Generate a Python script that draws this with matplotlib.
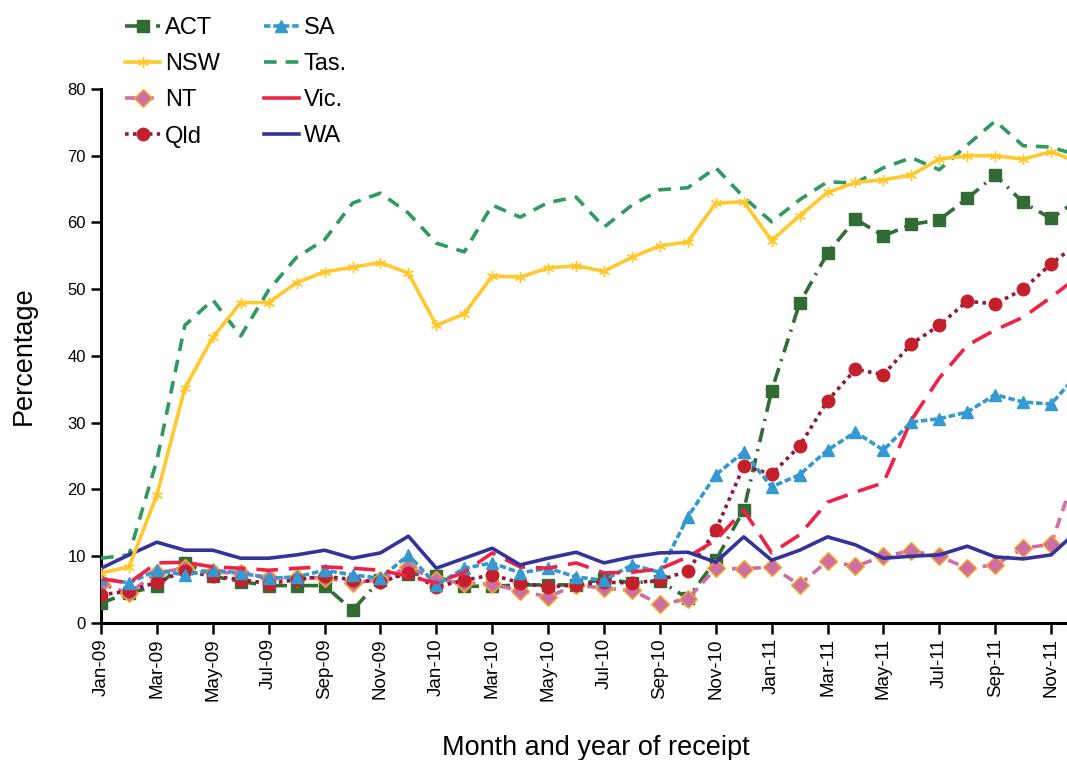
import numpy as np
import matplotlib
matplotlib.use("Agg")
from matplotlib import pyplot as plt

plt.rcParams['font.family'] = ['Liberation Sans', 'DejaVu Sans']

# monthly values, Jan-09 .. Dec-11
months = ['Jan-09', 'Feb-09', 'Mar-09', 'Apr-09', 'May-09', 'Jun-09', 'Jul-09', 'Aug-09',
          'Sep-09', 'Oct-09', 'Nov-09', 'Dec-09', 'Jan-10', 'Feb-10', 'Mar-10', 'Apr-10',
          'May-10', 'Jun-10', 'Jul-10', 'Aug-10', 'Sep-10', 'Oct-10', 'Nov-10', 'Dec-10',
          'Jan-11', 'Feb-11', 'Mar-11', 'Apr-11', 'May-11', 'Jun-11', 'Jul-11', 'Aug-11',
          'Sep-11', 'Oct-11', 'Nov-11', 'Dec-11']

act = [3.0, 4.5, 5.5, 9.0, 7.0, 6.2, 5.6, 5.6, 5.6, 1.9, 6.5, 7.4, 7.0, 5.5, 5.5, 5.7, 5.7, 5.7,
       6.6, 6.0, 6.3, 3.7, 9.4, 16.9, 34.8, 47.9, 55.4, 60.5, 58.0, 59.7, 60.4, 63.6, 67.1, 63.0,
       60.6, 63.5]
nsw = [7.5, 8.4, 19.2, 35.2, 42.8, 48.0, 48.0, 51.0, 52.6, 53.3, 54.0, 52.4, 44.6, 46.3, 52.0,
       51.8, 53.2, 53.5, 52.7, 54.8, 56.5, 57.1, 62.9, 63.1, 57.3, 61.0, 64.5, 66.0, 66.4, 67.1,
       69.5, 70.0, 70.0, 69.5, 70.6, 69.0]
nt = [5.8, 4.5, 7.5, 8.2, 7.6, 7.5, 6.8, 6.7, 6.8, 6.0, 6.5, 8.4, 6.4, 6.0, 5.8, 4.8, 3.9, 5.7,
      5.2, 4.9, 2.8, 3.6, 8.2, 8.1, 8.4, 5.7, 9.3, 8.5, 10.0, 10.8, 10.0, 8.2, 8.7, 11.2, 11.8, 24.0]
qld = [4.2, 4.8, 6.1, 7.8, 7.0, 6.5, 5.9, 6.5, 7.0, 6.5, 6.1, 7.5, 5.4, 6.4, 7.2, 6.0, 5.4, 5.7,
       6.1, 6.0, 6.4, 7.8, 13.9, 23.5, 22.3, 26.5, 33.3, 38.0, 37.2, 41.8, 44.6, 48.2, 47.8, 50.0,
       53.8, 57.0]
sa = [6.7, 6.0, 7.9, 7.2, 7.9, 7.5, 6.7, 6.9, 7.9, 7.2, 6.7, 10.2, 5.7, 8.2, 9.0, 7.5, 8.2, 6.9,
      6.4, 8.7, 7.6, 15.9, 22.2, 25.6, 20.4, 22.2, 25.9, 28.6, 25.9, 30.1, 30.6, 31.6, 34.2, 33.1,
      32.8, 37.5]
tas = [9.7, 10.2, 24.4, 44.6, 48.4, 43.0, 49.9, 54.8, 57.4, 62.9, 64.4, 61.4, 56.9, 55.6, 62.6,
       60.8, 63.0, 63.8, 59.3, 62.6, 64.9, 65.2, 68.2, 63.8, 60.1, 63.4, 66.1, 65.9, 68.2, 69.7,
       67.9, 71.6, 75.2, 71.5, 71.3, 70.0]
vic = [6.6, 6.0, 9.0, 9.1, 8.4, 8.2, 7.9, 8.2, 8.4, 8.2, 7.9, 7.0, 6.0, 7.6, 10.5, 8.4, 8.2, 9.0,
       7.5, 7.6, 8.1, 9.9, 12.4, 16.9, 10.5, 13.2, 18.1, 19.6, 21.0, 30.4, 36.7, 41.6, 43.9, 45.8,
       48.8, 52.0]
wa = [8.2, 10.2, 12.1, 10.9, 10.9, 9.7, 9.7, 10.2, 10.9, 9.7, 10.5, 13.0, 8.2, 9.7, 11.2, 8.7,
      9.7, 10.6, 9.0, 9.9, 10.5, 10.6, 9.1, 12.9, 9.4, 10.9, 12.9, 11.7, 9.7, 10.0, 10.2, 11.5,
      9.9, 9.6, 10.2, 14.0]

x = np.arange(len(months))

fig = plt.figure(figsize=(10.67, 7.6), dpi=100)
ax = fig.add_axes([0.0947, 0.1803, 1 - 0.0947, 0.7026])

# (label, data, line colour, linestyle, marker, marker face, marker edge, zorder)
series = [
    ('ACT', act, '#336b35', (0, (4, 2, 0.6, 2)), 's', '#336b35', '#336b35', 3),
    ('NSW', nsw, '#ffc92e', '-', (6, 2, 0), '#ffc92e', '#ffc92e', 8),
    ('NT', nt, '#cf6ea3', (0, (3, 2)), 'D', '#cf6ea3', '#f5b020', 4),
    ('Qld', qld, '#8c1a3c', (0, (1, 1.2)), 'o', '#c4202c', '#c4202c', 5),
    ('SA', sa, '#3399d0', (0, (1.8, 0.8)), '^', '#3399d0', '#3399d0', 6),
    ('Tas.', tas, '#2e9960', (0, (3.5, 2.5)), None, None, None, 7),
    ('Vic.', vic, '#ee2244', (0, (6, 3)), None, None, None, 6),
    ('WA', wa, '#333399', '-', None, None, None, 7),
]

for label, vals, col, ls, mk, mfc, mec, z in series:
    ax.plot(x, vals, color=col, linestyle=ls, linewidth=2.6, marker=mk,
            markersize=9 if mk != (6, 2, 0) else 8, markerfacecolor=mfc,
            markeredgecolor=mec, markeredgewidth=1.0, label=label, zorder=z)

ax.set_xlim(0, 34.57)
ax.set_ylim(0, 80)
ax.set_yticks(np.arange(0, 81, 10))
ax.set_xticks(x[::2])
ax.set_xticklabels(months[::2], rotation=90, fontsize=13.5)
ax.tick_params(axis='y', labelsize=12, direction='out', length=7, width=1.8, pad=4)
ax.tick_params(axis='x', direction='out', length=8, width=1.8, pad=3)

for s in ['top', 'right']:
    ax.spines[s].set_visible(False)
for s in ['left', 'bottom']:
    ax.spines[s].set_linewidth(2.2)

ax.set_ylabel('Percentage', fontsize=19.5, labelpad=22)
fig.text(0.558, 0.016, 'Month and year of receipt', fontsize=19.5, ha='center', va='center')

leg = ax.legend(loc='upper left', bbox_to_anchor=(125 / 1067, 1 - 17 / 760),
                bbox_transform=fig.transFigure, ncol=2, frameon=False, fontsize=17,
                handlelength=1.5, handletextpad=0.2, columnspacing=1.85, labelspacing=0.6,
                borderpad=0, borderaxespad=0, numpoints=1)
# Vic. shows as a plain short bar in the key
leg.get_lines()[6].set_linestyle('-')

plt.savefig('out.png', dpi=100)
